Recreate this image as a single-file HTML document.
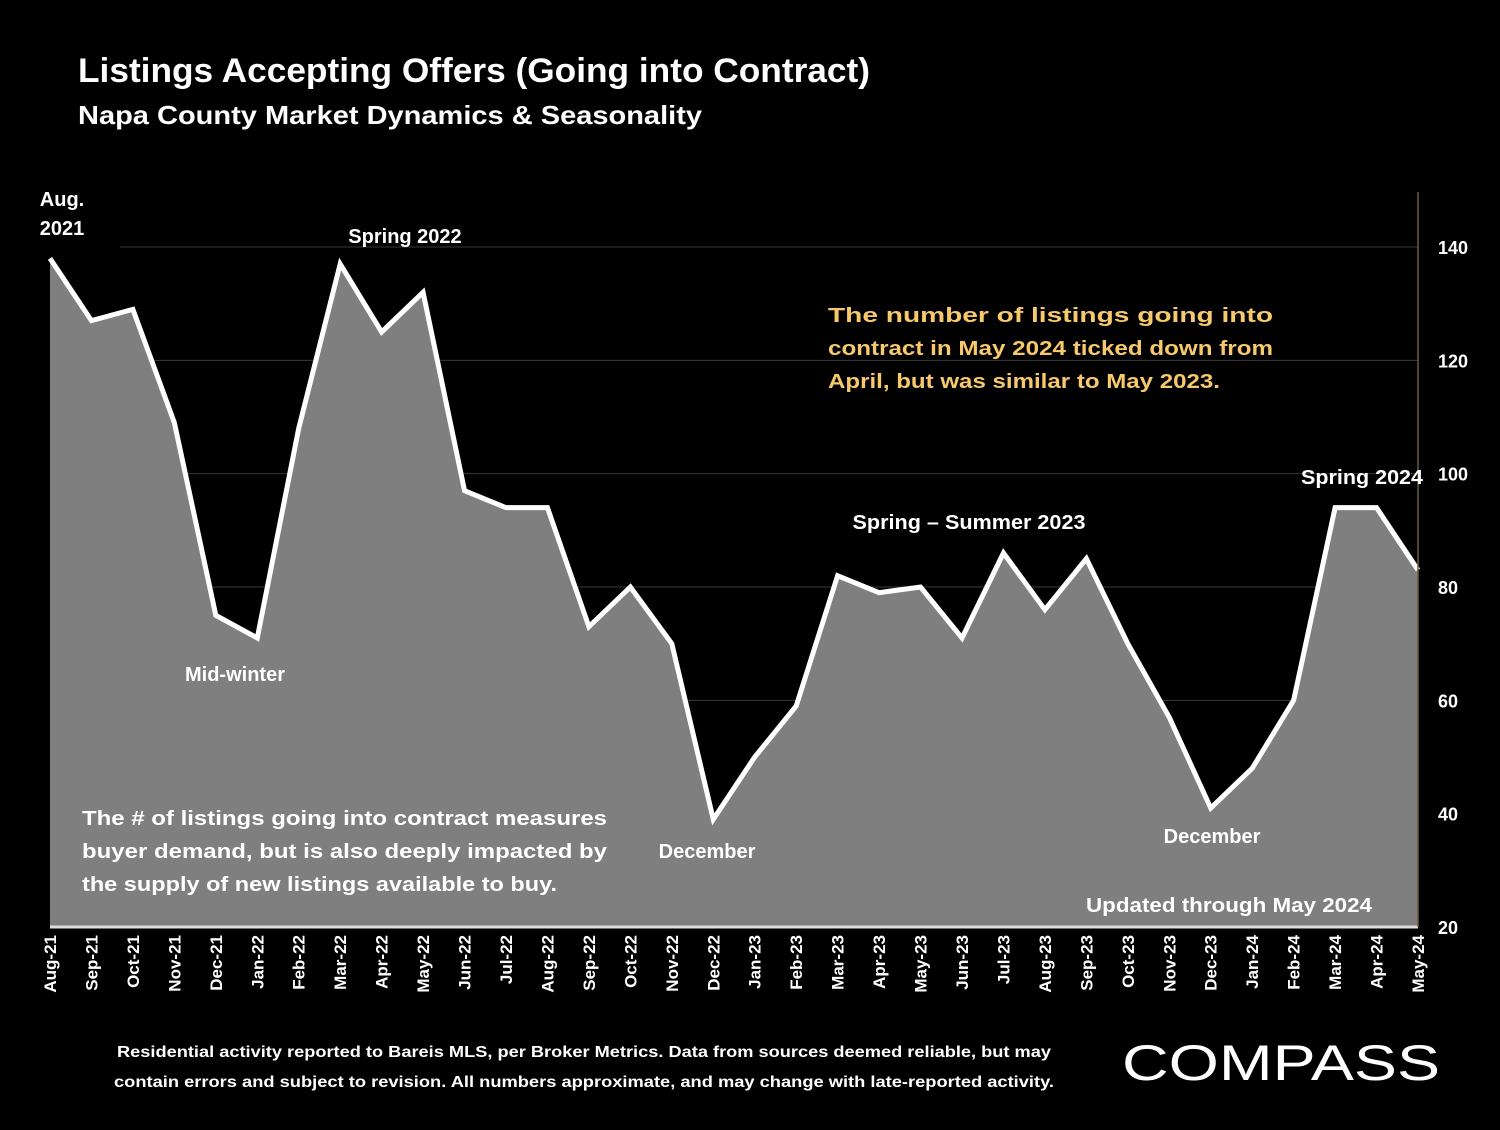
<!DOCTYPE html>
<html><head><meta charset="utf-8"><style>
body{margin:0;background:#000;}
svg text{font-family:"Liberation Sans",sans-serif;font-weight:bold;}
</style></head><body>
<svg id="chart" width="1500" height="1125" viewBox="0 0 1500 1125" xmlns="http://www.w3.org/2000/svg">
<rect width="1500" height="1125" fill="#000"/>
<text x="78" y="82" fill="#fff" font-size="34" textLength="792" lengthAdjust="spacingAndGlyphs">Listings Accepting Offers (Going into Contract)</text>
<text x="78" y="124" fill="#fff" font-size="26" textLength="624" lengthAdjust="spacingAndGlyphs">Napa County Market Dynamics &amp; Seasonality</text>
<g id="grid"></g>
<g id="series"></g>
<g id="yaxis"></g>
<g id="xaxis"></g>
<g fill="#fff" font-size="20">
<text x="62" y="206" text-anchor="middle">Aug.</text>
<text x="62" y="235" text-anchor="middle">2021</text>
<text x="405" y="243" text-anchor="middle">Spring 2022</text>
<text x="235" y="681" text-anchor="middle">Mid-winter</text>
<text x="707" y="858" text-anchor="middle">December</text>
<text x="969" y="529" text-anchor="middle" textLength="233" lengthAdjust="spacingAndGlyphs">Spring – Summer 2023</text>
<text x="1212" y="843" text-anchor="middle">December</text>
<text x="1362" y="484" text-anchor="middle" textLength="122" lengthAdjust="spacingAndGlyphs">Spring 2024</text>
<text x="1229" y="912" text-anchor="middle" textLength="286" lengthAdjust="spacingAndGlyphs">Updated through May 2024</text>
<text x="82" y="825" textLength="525" lengthAdjust="spacingAndGlyphs">The # of listings going into contract measures</text>
<text x="82" y="858" textLength="525" lengthAdjust="spacingAndGlyphs">buyer demand, but is also deeply impacted by</text>
<text x="82" y="891" textLength="475" lengthAdjust="spacingAndGlyphs">the supply of new listings available to buy.</text>
</g>
<g fill="#f7c96b" font-size="20">
<text x="828" y="322" textLength="445" lengthAdjust="spacingAndGlyphs">The number of listings going into</text>
<text x="828" y="355" textLength="445" lengthAdjust="spacingAndGlyphs">contract in May 2024 ticked down from</text>
<text x="828" y="388" textLength="392" lengthAdjust="spacingAndGlyphs">April, but was similar to May 2023.</text>
</g>
<g fill="#fff" font-size="16" text-anchor="middle">
<text x="584" y="1057" textLength="934" lengthAdjust="spacingAndGlyphs">Residential activity reported to Bareis MLS, per Broker Metrics. Data from sources deemed reliable, but may</text>
<text x="584" y="1087" textLength="940" lengthAdjust="spacingAndGlyphs">contain errors and subject to revision. All numbers approximate, and may change with late-reported activity.</text>
</g>
<text x="1122" y="1080" fill="#fff" font-size="50" textLength="318" lengthAdjust="spacingAndGlyphs" style="font-weight:normal">COMPASS</text>
</svg>
<script>
const categories=["Aug-21","Sep-21","Oct-21","Nov-21","Dec-21","Jan-22","Feb-22","Mar-22","Apr-22","May-22","Jun-22","Jul-22","Aug-22","Sep-22","Oct-22","Nov-22","Dec-22","Jan-23","Feb-23","Mar-23","Apr-23","May-23","Jun-23","Jul-23","Aug-23","Sep-23","Oct-23","Nov-23","Dec-23","Jan-24","Feb-24","Mar-24","Apr-24","May-24"];
const values=[138,127,129,109,75,71,108,137,125,132,97,94,94,73,80,70,39,50,59,82,79,80,71,86,76,85,70,57,41,48,60,94,94,83];
const yTicks=[20,40,60,80,100,120,140];
const NS="http://www.w3.org/2000/svg";
const x0=50,x1=1418,yMin=20,yMax=140,yB=927,yT=247;
function xs(i){return x0+(x1-x0)*i/(categories.length-1);}
function ys(v){return yB-(v-yMin)/(yMax-yMin)*(yB-yT);}
function mk(t,a,p){const e=document.createElementNS(NS,t);for(const k in a)e.setAttribute(k,a[k]);p.appendChild(e);return e;}
const grid=document.getElementById('grid'),ser=document.getElementById('series'),ya=document.getElementById('yaxis'),xa=document.getElementById('xaxis');
yTicks.forEach(v=>{
 if(v>yMin){const l=mk('line',{x1:120,x2:x1,y1:ys(v),y2:ys(v),stroke:'#3a3a3a','stroke-width':1},grid);
 
 }
 const t=mk('text',{x:1438,y:ys(v)+7,fill:'#fff','font-size':18},ya);t.textContent=v;
 
 
});
const ax=mk('line',{x1:x1,x2:x1,y1:192,y2:yB,stroke:'#6b5e3a','stroke-width':1.5},ya);


let pts=values.map((v,i)=>xs(i)+','+ys(v));
const area=mk('polygon',{points:x0+','+yB+' '+pts.join(' ')+' '+x1+','+yB,fill:'#7f7f7f'},ser);


const line=mk('polyline',{points:pts.join(' '),fill:'none',stroke:'#fff','stroke-width':5,'stroke-linejoin':'miter'},ser);


const base=mk('line',{x1:x0,x2:x1,y1:yB,y2:yB,stroke:'#ddd','stroke-width':3},ser);


categories.forEach((c,i)=>{
 const t=mk('text',{x:0,y:0,fill:'#fff','font-size':17,'text-anchor':'end',transform:`translate(${xs(i)+6},935) rotate(-90)`},xa);
 t.textContent=c;
 
 
});
</script>
</body></html>
